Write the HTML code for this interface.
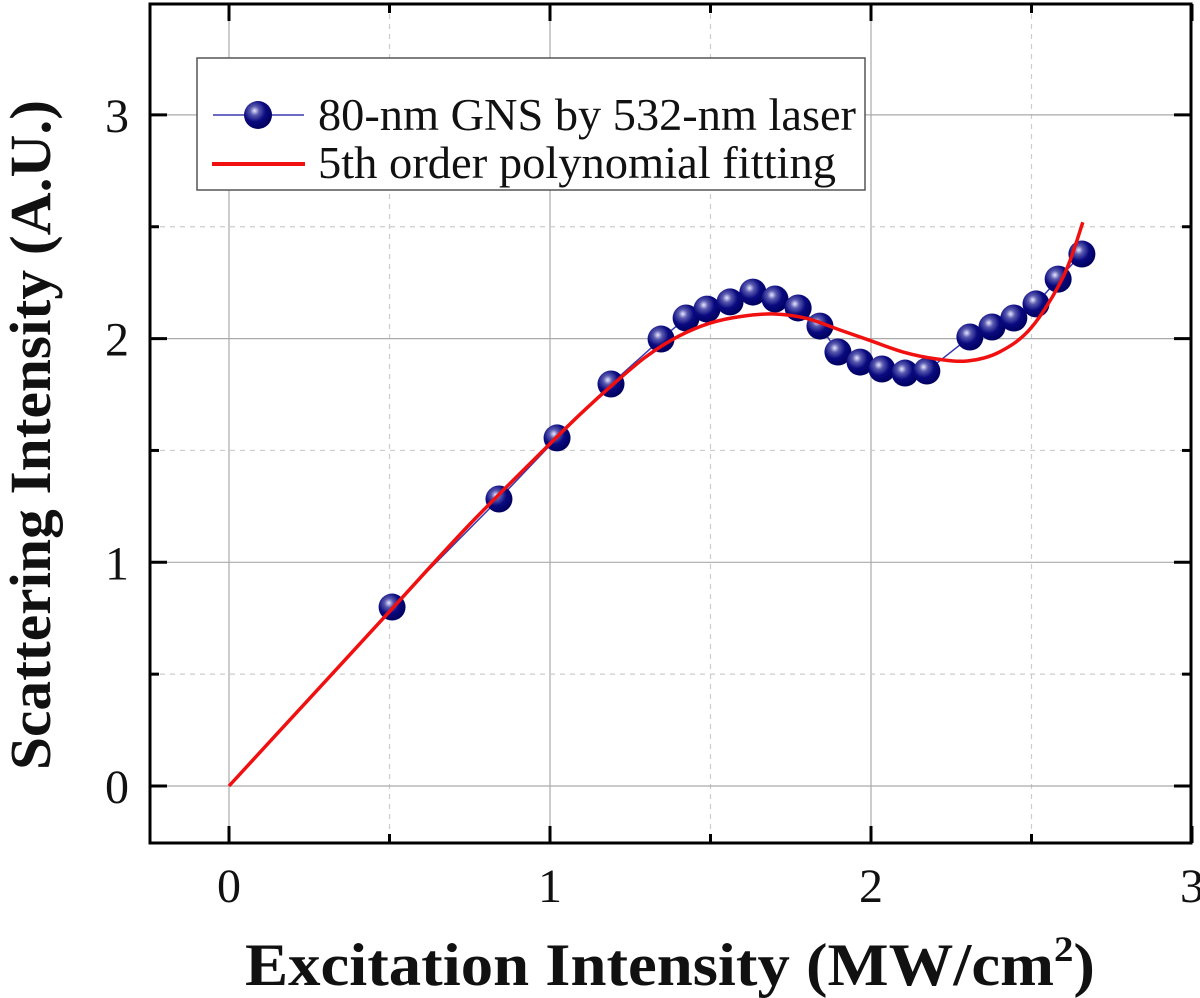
<!DOCTYPE html>
<html><head><meta charset="utf-8"><style>
html,body{margin:0;padding:0;background:#fff;}
svg{display:block;font-family:"Liberation Serif",serif;}
</style></head><body>
<svg id="chart" width="1200" height="998" viewBox="0 0 1200 998">
<defs>
<radialGradient id="ball" cx="0.38" cy="0.35" r="0.65">
<stop offset="0" stop-color="#e8e8ff"/><stop offset="0.25" stop-color="#5a5ab0"/><stop offset="0.6" stop-color="#0a0a80"/><stop offset="1" stop-color="#000060"/>
</radialGradient>
<clipPath id="plotclip"><rect x="150" y="4" width="1041" height="839"/></clipPath>
</defs>
<g id="grid"></g>
<g id="series" clip-path="url(#plotclip)"></g>
<rect x="150" y="4" width="1041" height="839" fill="none" stroke="#000" stroke-width="3"/>
<g id="ticks"></g>
<g>
<rect x="197" y="58" width="668" height="132" fill="#fff" stroke="#555" stroke-width="1.5"/>
<g>
<line x1="213" y1="115" x2="304" y2="115" stroke="#3a3ab0" stroke-width="1.5"/>
<circle cx="258" cy="115" r="14" fill="url(#ball)"/>
<text x="318" y="130" font-size="45" textLength="538" lengthAdjust="spacingAndGlyphs" fill="#111">80-nm GNS by 532-nm laser</text>
</g>
<g>
<line x1="212" y1="164" x2="305" y2="164" stroke="#f01010" stroke-width="4"/>
<text x="318" y="178" font-size="45" textLength="518" lengthAdjust="spacingAndGlyphs" fill="#111">5th order polynomial fitting</text>
</g>
</g>
<text x="670" y="985" text-anchor="middle" font-size="60" font-weight="bold" fill="#111" textLength="850" lengthAdjust="spacingAndGlyphs">Excitation Intensity (MW/cm<tspan dy="-24" font-size="36">2</tspan><tspan dy="24">)</tspan></text>
<text transform="translate(50,435) rotate(-90)" text-anchor="middle" font-size="58" font-weight="bold" fill="#111" textLength="670" lengthAdjust="spacingAndGlyphs">Scattering Intensity (A.U.)</text>
</svg>
<script>
const dataX = [0.508,0.841,1.022,1.190,1.346,1.424,1.489,1.561,1.632,1.701,1.773,1.841,1.897,1.966,2.034,2.106,2.174,2.308,2.377,2.445,2.514,2.583,2.657];
const dataY = [0.800,1.283,1.556,1.797,1.998,2.092,2.132,2.164,2.208,2.177,2.137,2.056,1.940,1.895,1.864,1.846,1.855,2.007,2.052,2.092,2.155,2.266,2.378];
const fitX = [0,0.25,0.5,0.75,1.0,1.1,1.2,1.3,1.4,1.5,1.6,1.7,1.8,1.9,2.0,2.1,2.2,2.3,2.4,2.5,2.6,2.66];
const fitY = [0,0.39,0.78,1.17,1.53,1.67,1.80,1.92,2.01,2.07,2.10,2.11,2.09,2.04,1.99,1.94,1.91,1.90,1.94,2.05,2.28,2.52];
const xTicks = [0,1,2,3];
const yTicks = [0,1,2,3];
const xMinor = [0.5,1.5,2.5];
const yMinor = [0.5,1.5,2.5];

const NS = "http://www.w3.org/2000/svg";
const sx = v => 229 + v * 321;
const sy = v => 786 - v * 223.7;
function mk(tag, attrs, parent){const e=document.createElementNS(NS,tag);for(const k in attrs)e.setAttribute(k,attrs[k]);parent.appendChild(e);return e;}
const grid=document.getElementById('grid'), ticks=document.getElementById('ticks'), series=document.getElementById('series');

xTicks.forEach(v=>{
  if(v<3){const l=mk('line',{x1:sx(v),x2:sx(v),y1:4,y2:843,stroke:'#aaa','stroke-width':1.2},grid);
  
  }
  mk('line',{x1:sx(v),x2:sx(v),y1:843,y2:826,stroke:'#000','stroke-width':3},ticks);
  mk('line',{x1:sx(v),x2:sx(v),y1:4,y2:21,stroke:'#000','stroke-width':3},ticks);
  const t=mk('text',{x:sx(v),y:902,'text-anchor':'middle','font-size':48,fill:'#111'},ticks);
  t.textContent=v;
  
  
});
xMinor.forEach(v=>{
  mk('line',{x1:sx(v),x2:sx(v),y1:4,y2:843,stroke:'#ccc','stroke-width':1.2,'stroke-dasharray':'5,5'},grid);
  mk('line',{x1:sx(v),x2:sx(v),y1:843,y2:834,stroke:'#000','stroke-width':3},ticks);
  mk('line',{x1:sx(v),x2:sx(v),y1:4,y2:13,stroke:'#000','stroke-width':3},ticks);
});
yTicks.forEach(v=>{
  const l=mk('line',{x1:150,x2:1191,y1:sy(v),y2:sy(v),stroke:'#aaa','stroke-width':1.2},grid);
  
  
  mk('line',{x1:150,x2:167,y1:sy(v),y2:sy(v),stroke:'#000','stroke-width':3},ticks);
  mk('line',{x1:1174,x2:1191,y1:sy(v),y2:sy(v),stroke:'#000','stroke-width':3},ticks);
  const t=mk('text',{x:129,y:sy(v)+17,'text-anchor':'end','font-size':48,fill:'#111'},ticks);
  t.textContent=v;
  
  
});
yMinor.forEach(v=>{
  mk('line',{x1:150,x2:1191,y1:sy(v),y2:sy(v),stroke:'#ccc','stroke-width':1.2,'stroke-dasharray':'5,5'},grid);
  mk('line',{x1:150,x2:159,y1:sy(v),y2:sy(v),stroke:'#000','stroke-width':3},ticks);
  mk('line',{x1:1182,x2:1191,y1:sy(v),y2:sy(v),stroke:'#000','stroke-width':3},ticks);
});

const dl=mk('polyline',{points:dataX.map((x,i)=>sx(x)+','+sy(dataY[i])).join(' '),fill:'none',stroke:'#3a3ab0','stroke-width':1.5},series);



dataX.forEach((x,i)=>{
  const c=mk('circle',{cx:sx(x),cy:sy(dataY[i]),r:13.5,fill:'url(#ball)'},series);
  
  
});

const P=fitX.map((x,i)=>[sx(x),sy(fitY[i])]);
let d='M'+P[0][0]+','+P[0][1];
for(let i=0;i<P.length-1;i++){
  const p0=P[Math.max(0,i-1)],p1=P[i],p2=P[i+1],p3=P[Math.min(P.length-1,i+2)];
  const c1=[p1[0]+(p2[0]-p0[0])/6,p1[1]+(p2[1]-p0[1])/6];
  const c2=[p2[0]-(p3[0]-p1[0])/6,p2[1]-(p3[1]-p1[1])/6];
  d+=' C'+c1.join(',')+' '+c2.join(',')+' '+p2.join(',');
}
const fl=mk('path',{d:d,fill:'none',stroke:'#f01010','stroke-width':3.5},series);


</script>
</body></html>
